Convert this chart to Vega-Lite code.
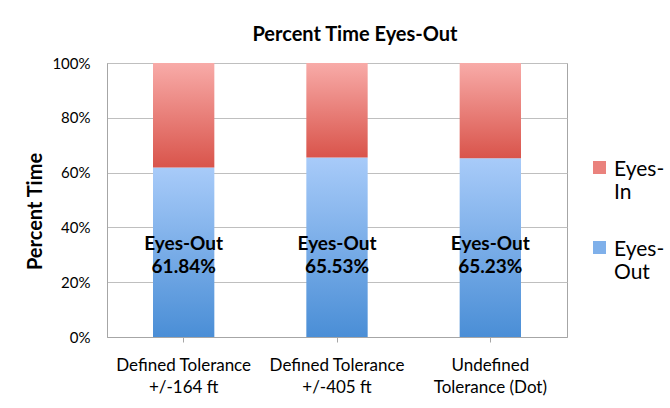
{
  "$schema": "https://vega.github.io/schema/vega-lite/v6.json",
  "width": 460,
  "height": 274,
  "autosize": {"type": "none"},
  "padding": {"left": 107, "top": 63, "right": 103, "bottom": 71},
  "background": "white",
  "title": {
    "text": "Percent Time Eyes-Out",
    "font": "Lato",
    "fontSize": 20,
    "fontWeight": "bold",
    "color": "#000000",
    "anchor": "middle",
    "dx": 18,
    "offset": 11
  },
  "config": {
    "font": "Lato",
    "view": {"stroke": "#a6a6a6", "strokeWidth": 1},
    "axis": {
      "labelFont": "Lato",
      "titleFont": "Lato",
      "labelColor": "#000000",
      "titleColor": "#000000",
      "gridColor": "#bfbfbf",
      "domainColor": "#a6a6a6",
      "tickColor": "#a6a6a6"
    }
  },
  "data": {
    "values": [
      {"category": "Defined Tolerance|+/-164 ft", "series": "Eyes-Out", "value": 0.6184},
      {"category": "Defined Tolerance|+/-164 ft", "series": "Eyes-In", "value": 0.3816},
      {"category": "Defined Tolerance|+/-405 ft", "series": "Eyes-Out", "value": 0.6553},
      {"category": "Defined Tolerance|+/-405 ft", "series": "Eyes-In", "value": 0.3447},
      {"category": "Undefined|Tolerance (Dot)", "series": "Eyes-Out", "value": 0.6523},
      {"category": "Undefined|Tolerance (Dot)", "series": "Eyes-In", "value": 0.3477}
    ]
  },
  "encoding": {
    "x": {
      "field": "category",
      "type": "nominal",
      "sort": null,
      "scale": {"paddingInner": 0.6, "paddingOuter": 0.3},
      "axis": {
        "title": null,
        "labelAngle": 0,
        "labelExpr": "split(datum.label, '|')",
        "labelFontSize": 17,
        "labelLineHeight": 22,
        "labelPadding": 15,
        "tickSize": 5,
        "labelBaseline": "top"
      }
    }
  },
  "layer": [
    {
      "mark": {"type": "bar"},
      "encoding": {
        "y": {
          "field": "value",
          "type": "quantitative",
          "stack": "zero",
          "scale": {"domain": [0, 1]},
          "axis": {
            "title": "Percent Time",
            "titleFontSize": 20,
            "titleFontWeight": "bold",
            "titlePadding": 6,
            "titleY": 148,
            "format": ".0%",
            "values": [0, 0.2, 0.4, 0.6, 0.8, 1],
            "labelFontSize": 15,
            "labelPadding": 17,
            "tickSize": 0,
            "grid": true
          }
        },
        "order": {"field": "series", "sort": "descending"},
        "fill": {
          "field": "series",
          "type": "nominal",
          "scale": {
            "domain": ["Eyes-In", "Eyes-Out"],
            "range": ["#ea827d", "#7fb0ea"]
          },
          "condition": [
            {"test": "datum.series == 'Eyes-Out'", "value": {"gradient": "linear", "x1": 0, "y1": 0, "x2": 0, "y2": 1,
               "stops": [{"offset": 0, "color": "#a8cbf9"}, {"offset": 1, "color": "#4a8ed6"}]}},
            {"test": "datum.series == 'Eyes-In'", "value": {"gradient": "linear", "x1": 0, "y1": 0, "x2": 0, "y2": 1,
               "stops": [{"offset": 0, "color": "#f8aba8"}, {"offset": 1, "color": "#d9544b"}]}}
          ],
          "legend": {
            "title": null,
            "orient": "none",
            "legendX": 482,
            "legendY": 94,
            "symbolType": "square",
            "symbolSize": 169,
            "symbolStrokeWidth": 0,
            "labelFont": "Lato",
            "labelFontSize": 21,
            "labelLineHeight": 26,
            "labelBaseline": "top",
            "labelColor": "#000000",
            "labelExpr": "split(datum.label, '-').length > 1 ? ['Eyes-', split(datum.label, '-')[1]] : datum.label",
            "rowPadding": 34,
            "labelOffset": 4,
            "encode": {
              "labels": {
                "update": {"dy": {"value": -9}}
              }
            }
          }
        }
      }
    },
    {
      "transform": [{"filter": "datum.series == 'Eyes-Out'"}],
      "mark": {"type": "text", "font": "Lato", "fontSize": 19, "fontWeight": "bold", "color": "#000000", "baseline": "middle", "dy": -11.5},
      "encoding": {
        "y": {"datum": 0.299, "type": "quantitative"},
        "text": {"field": "series", "type": "nominal"}
      }
    },
    {
      "transform": [{"filter": "datum.series == 'Eyes-Out'"}],
      "mark": {"type": "text", "font": "Lato", "fontSize": 19, "fontWeight": "bold", "color": "#000000", "baseline": "middle", "dy": 11.5},
      "encoding": {
        "y": {"datum": 0.299, "type": "quantitative"},
        "text": {"field": "value", "type": "quantitative", "format": ".2%"}
      }
    }
  ]
}
